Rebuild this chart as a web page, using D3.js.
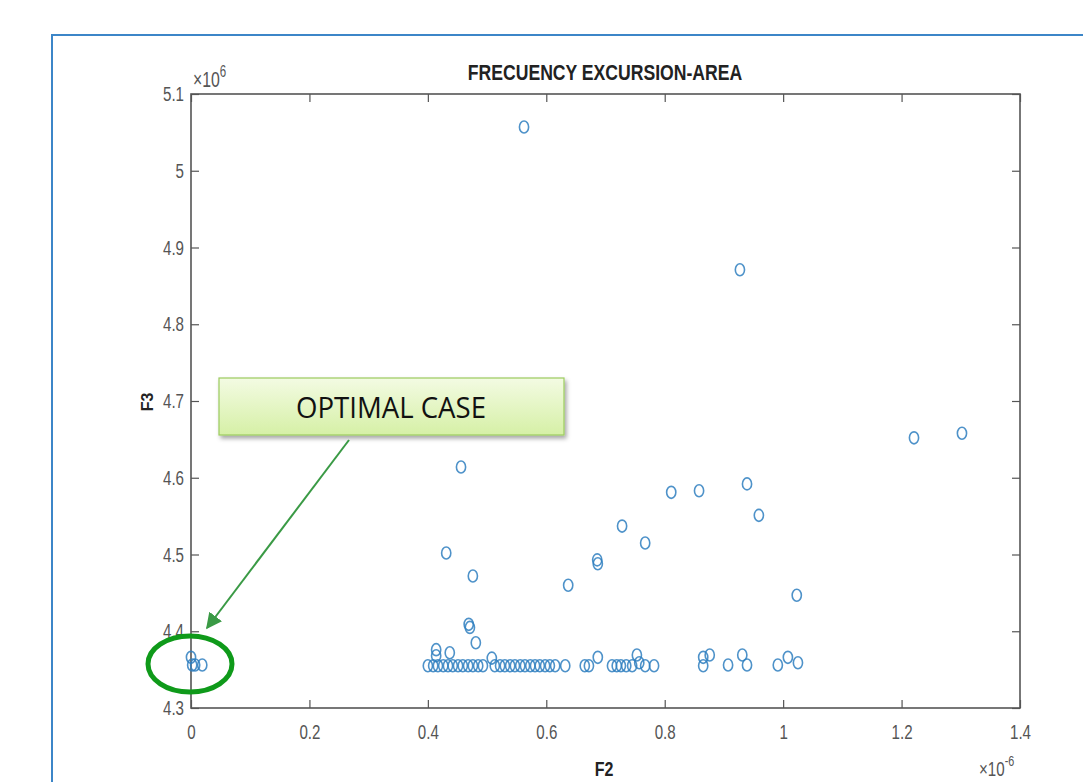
<!DOCTYPE html>
<html><head><meta charset="utf-8">
<script src="https://cdn.jsdelivr.net/npm/d3@7"></script>
<style>
html,body{margin:0;padding:0;background:#fff;}
svg{display:block;}
</style></head>
<body>
<svg id="c" width="1083" height="782"></svg>
<script>
// F2 values (×1e-6) and F3 values (×1e6)
const f2 = [
 0.000,0.002,0.007,0.019,
 0.5624,0.927,1.221,1.302,0.456,
 0.431,0.476,0.637,0.686,0.687,0.728,0.767,0.811,0.858,0.939,0.959,1.023,
 0.469,0.471,0.481,0.414,0.414,0.437,
 0.400,0.409,0.417,0.426,0.434,0.442,0.451,0.459,0.468,0.476,0.485,0.493,0.508,0.513,0.522,0.530,0.539,0.547,0.556,0.564,0.573,0.581,0.589,0.598,0.606,0.615,0.632,
 0.665,0.672,0.687,
 0.711,0.719,0.726,0.735,0.745,0.753,0.757,0.767,0.782,
 0.865,0.865,0.876,0.907,0.931,0.939,0.991,1.008,1.025
];
const f3 = [
 4.366,4.356,4.356,4.356,
 5.057,4.871,4.652,4.658,4.614,
 4.502,4.472,4.460,4.493,4.488,4.537,4.515,4.581,4.583,4.592,4.551,4.447,
 4.409,4.405,4.385,4.376,4.368,4.372,
 4.355,4.355,4.355,4.355,4.355,4.355,4.355,4.355,4.355,4.355,4.355,4.355,4.365,4.355,4.355,4.355,4.355,4.355,4.355,4.355,4.355,4.355,4.355,4.355,4.355,4.355,4.355,
 4.355,4.355,4.366,
 4.355,4.355,4.355,4.355,4.355,4.369,4.359,4.355,4.355,
 4.366,4.355,4.369,4.356,4.369,4.356,4.356,4.366,4.359
];
const xTicks = [0,0.2,0.4,0.6,0.8,1,1.2,1.4];
const yTicks = [4.3,4.4,4.5,4.6,4.7,4.8,4.9,5,5.1];
const title = "FRECUENCY EXCURSION-AREA";
const xLabel = "F2", yLabel = "F3";
const calloutText = "OPTIMAL CASE";

const svg = d3.select("#c");
const FONT = "'Liberation Sans',Arial,sans-serif";
const SX = 0.72; // horizontal condensation of the (vertically stretched) reference text

// outer frame
svg.append("rect").attr("x",52).attr("y",35).attr("width",1100).attr("height",800)
  .attr("fill","none").attr("stroke","#3c86c8").attr("stroke-width",2);

const x = d3.scaleLinear().domain([0,1.4]).range([191,1020]);
const y = d3.scaleLinear().domain([4.3,5.1]).range([708,94]);
const fmt = d3.format("~g");
const axisCol = "#555";

function styleAxis(g){
  g.attr("font-size",null);
  g.select(".domain").remove();
  g.selectAll("line").attr("stroke",axisCol).attr("stroke-width",1.2);
  g.selectAll("text").attr("fill","#555").attr("font-family",FONT).style("font-size","21px")
    .each(function(){
      const t = d3.select(this);
      const tx = +t.attr("x") || 0;
      t.attr("x", tx/SX).attr("transform",`scale(${SX},1)`);
    });
}
svg.append("g").attr("transform","translate(0,708)")
  .call(d3.axisBottom(x).tickValues(xTicks).tickFormat(fmt).tickSizeInner(-8).tickSizeOuter(0).tickPadding(16))
  .call(styleAxis);
svg.append("g").attr("transform","translate(0,94)")
  .call(d3.axisTop(x).tickValues(xTicks).tickFormat("").tickSizeInner(-8).tickSizeOuter(0))
  .call(styleAxis);
svg.append("g").attr("transform","translate(191,0)")
  .call(d3.axisLeft(y).tickValues(yTicks).tickFormat(fmt).tickSizeInner(-8).tickSizeOuter(0).tickPadding(7))
  .call(styleAxis);
svg.append("g").attr("transform","translate(1020,0)")
  .call(d3.axisRight(y).tickValues(yTicks).tickFormat("").tickSizeInner(-8).tickSizeOuter(0))
  .call(styleAxis);
// box
svg.append("rect").attr("x",x(0)).attr("y",y(5.1)).attr("width",x(1.4)-x(0)).attr("height",y(4.3)-y(5.1))
  .attr("fill","none").attr("stroke",axisCol).attr("stroke-width",1.6);

// exponent labels
const e1 = svg.append("text").attr("transform",`translate(193,87) scale(${SX},1)`).attr("font-family",FONT).style("font-size","22px").attr("fill","#555");
e1.append("tspan").text("\u00d710");
e1.append("tspan").attr("dy",-10).style("font-size","16px").text("6");
const e2 = svg.append("text").attr("transform",`translate(979,776) scale(${SX},1)`).attr("font-family",FONT).style("font-size","21px").attr("fill","#555");
e2.append("tspan").text("\u00d710");
e2.append("tspan").attr("dy",-10).style("font-size","15px").text("-6");

// title & labels
svg.append("text").attr("transform",`translate(605,80) scale(0.8,1)`).attr("text-anchor","middle").attr("font-family",FONT)
  .attr("font-weight","bold").style("font-size","22px").attr("fill","#222").text(title);
svg.append("text").attr("transform",`translate(604,776) scale(0.8,1)`).attr("text-anchor","middle").attr("font-family",FONT)
  .attr("font-weight","bold").style("font-size","20px").attr("fill","#222").text(xLabel);
svg.append("text").attr("transform","translate(153,402) rotate(-90)").attr("text-anchor","middle").attr("font-family",FONT)
  .attr("font-weight","bold").style("font-size","16px").attr("fill","#222").text(yLabel);

// points (slightly tall ellipses, like the stretched reference)
svg.append("g").selectAll("ellipse").data(f2.map((d,i)=>[d,f3[i]])).join("ellipse")
  .attr("cx",d=>x(d[0])).attr("cy",d=>y(d[1])).attr("rx",4.6).attr("ry",6)
  .attr("fill","none").attr("stroke","#2f7fc0").attr("stroke-width",1.6).attr("stroke-opacity",0.85);

// callout
const defs = svg.append("defs");
const lg = defs.append("linearGradient").attr("id","gg").attr("x1",0).attr("y1",0).attr("x2",0).attr("y2",1);
lg.append("stop").attr("offset","0%").attr("stop-color","#f3fbe3");
lg.append("stop").attr("offset","100%").attr("stop-color","#d6f0a6");
const fl = defs.append("filter").attr("id","sh").attr("x","-10%").attr("y","-20%").attr("width","130%").attr("height","160%");
fl.append("feDropShadow").attr("dx",2).attr("dy",3).attr("stdDeviation",2).attr("flood-color","#000").attr("flood-opacity",0.35);
const mk = defs.append("marker").attr("id","ah").attr("viewBox","0 0 10 10").attr("refX",9).attr("refY",5)
  .attr("markerWidth",16).attr("markerHeight",16).attr("orient","auto-start-reverse").attr("markerUnits","userSpaceOnUse");
mk.append("path").attr("d","M0,0 L10,5 L0,10 z").attr("fill","#3a9a45");

svg.append("rect").attr("x",219).attr("y",378).attr("width",345).attr("height",57)
  .attr("fill","url(#gg)").attr("stroke","#9ccb5e").attr("stroke-width",1.2).attr("filter","url(#sh)");
svg.append("text").attr("transform","translate(391,418) scale(0.92,1)").attr("text-anchor","middle")
  .attr("font-family","'Open Sans',Lato,sans-serif").style("font-size","30px").attr("fill","#111").text(calloutText);

svg.append("line").attr("x1",349).attr("y1",440).attr("x2",207).attr("y2",628)
  .attr("stroke","#3a9a45").attr("stroke-width",2).attr("marker-end","url(#ah)");

svg.append("ellipse").attr("cx",190).attr("cy",664).attr("rx",42).attr("ry",28)
  .attr("fill","none").attr("stroke","#0f9a1a").attr("stroke-width",5);
</script>
</body></html>
